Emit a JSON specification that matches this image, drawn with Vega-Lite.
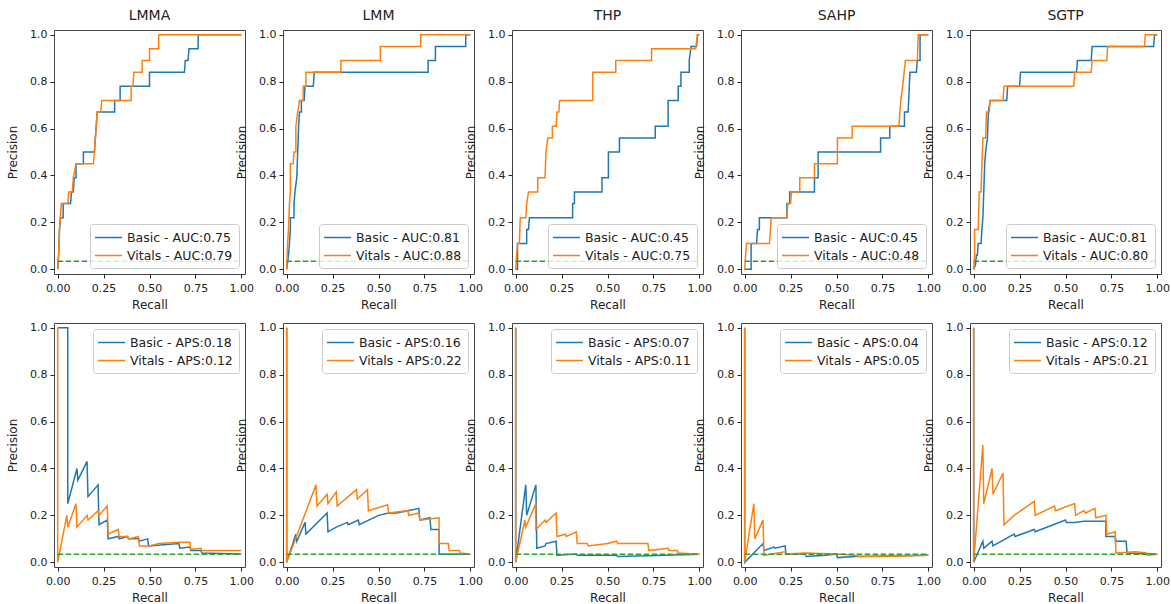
{
"$schema": "https://vega.github.io/schema/vega-lite/v6.json",
"padding": {"top": 8, "left": 6, "right": 3, "bottom": 5},
"background": "white",
"config": {
  "view": {"stroke": "#444", "strokeWidth": 1},
  "title": {"font": "DejaVu Sans", "fontSize": 14, "fontWeight": "normal", "color": "#222", "offset": 6},
  "axis": {"grid": false, "domain": false, "labelFont": "DejaVu Sans", "labelFontSize": 11, "labelColor": "#222", "titleFont": "DejaVu Sans", "titleFontSize": 12, "titleFontWeight": "normal", "titleColor": "#222", "tickColor": "#222", "tickSize": 4},
  "axisY": {"titlePadding": 10, "labelPadding": 3},
  "axisX": {"titlePadding": 6, "labelPadding": 4},
  "legend": {"fillColor": "rgba(255,255,255,0.8)", "strokeColor": "#cccccc", "cornerRadius": 3, "padding": 6, "symbolSize": 169, "symbolOffset": 5, "labelOffset": 11, "symbolStrokeWidth": 1.5, "labelFont": "DejaVu Sans", "labelFontSize": 12.5, "labelColor": "#222", "rowPadding": 4, "offset": 6}
},
"datasets": {
  "base": [{"x": 0, "y": 0.034}, {"x": 1, "y": 0.034}],
  "rocLMMA": [
    {"s":"Basic","x":0,"y":0},{"s":"Basic","x":0.005,"y":0.06},{"s":"Basic","x":0.01,"y":0.17},{"s":"Basic","x":0.015,"y":0.22},{"s":"Basic","x":0.03,"y":0.22},{"s":"Basic","x":0.03,"y":0.28},{"s":"Basic","x":0.07,"y":0.28},{"s":"Basic","x":0.075,"y":0.33},{"s":"Basic","x":0.085,"y":0.33},{"s":"Basic","x":0.09,"y":0.39},{"s":"Basic","x":0.1,"y":0.39},{"s":"Basic","x":0.1,"y":0.45},{"s":"Basic","x":0.14,"y":0.45},{"s":"Basic","x":0.14,"y":0.5},{"s":"Basic","x":0.2,"y":0.5},{"s":"Basic","x":0.205,"y":0.56},{"s":"Basic","x":0.21,"y":0.61},{"s":"Basic","x":0.215,"y":0.67},{"s":"Basic","x":0.31,"y":0.67},{"s":"Basic","x":0.31,"y":0.72},{"s":"Basic","x":0.34,"y":0.72},{"s":"Basic","x":0.34,"y":0.78},{"s":"Basic","x":0.5,"y":0.78},{"s":"Basic","x":0.5,"y":0.84},{"s":"Basic","x":0.69,"y":0.84},{"s":"Basic","x":0.695,"y":0.89},{"s":"Basic","x":0.71,"y":0.89},{"s":"Basic","x":0.715,"y":0.94},{"s":"Basic","x":0.765,"y":0.94},{"s":"Basic","x":0.765,"y":1},{"s":"Basic","x":1,"y":1},
    {"s":"Vitals","x":0,"y":0},{"s":"Vitals","x":0.005,"y":0.06},{"s":"Vitals","x":0.01,"y":0.17},{"s":"Vitals","x":0.02,"y":0.28},{"s":"Vitals","x":0.055,"y":0.28},{"s":"Vitals","x":0.06,"y":0.33},{"s":"Vitals","x":0.08,"y":0.33},{"s":"Vitals","x":0.085,"y":0.39},{"s":"Vitals","x":0.1,"y":0.45},{"s":"Vitals","x":0.195,"y":0.45},{"s":"Vitals","x":0.2,"y":0.5},{"s":"Vitals","x":0.21,"y":0.61},{"s":"Vitals","x":0.215,"y":0.67},{"s":"Vitals","x":0.235,"y":0.67},{"s":"Vitals","x":0.24,"y":0.72},{"s":"Vitals","x":0.4,"y":0.72},{"s":"Vitals","x":0.4,"y":0.78},{"s":"Vitals","x":0.41,"y":0.78},{"s":"Vitals","x":0.415,"y":0.84},{"s":"Vitals","x":0.46,"y":0.84},{"s":"Vitals","x":0.46,"y":0.89},{"s":"Vitals","x":0.5,"y":0.89},{"s":"Vitals","x":0.5,"y":0.94},{"s":"Vitals","x":0.55,"y":0.94},{"s":"Vitals","x":0.55,"y":1},{"s":"Vitals","x":1,"y":1}
  ],
  "rocLMM": [
    {"s":"Basic","x":0,"y":0},{"s":"Basic","x":0.01,"y":0.06},{"s":"Basic","x":0.015,"y":0.11},{"s":"Basic","x":0.02,"y":0.17},{"s":"Basic","x":0.02,"y":0.22},{"s":"Basic","x":0.04,"y":0.22},{"s":"Basic","x":0.04,"y":0.28},{"s":"Basic","x":0.045,"y":0.33},{"s":"Basic","x":0.055,"y":0.39},{"s":"Basic","x":0.06,"y":0.5},{"s":"Basic","x":0.065,"y":0.61},{"s":"Basic","x":0.07,"y":0.67},{"s":"Basic","x":0.08,"y":0.67},{"s":"Basic","x":0.08,"y":0.72},{"s":"Basic","x":0.095,"y":0.72},{"s":"Basic","x":0.1,"y":0.78},{"s":"Basic","x":0.145,"y":0.78},{"s":"Basic","x":0.15,"y":0.84},{"s":"Basic","x":0.77,"y":0.84},{"s":"Basic","x":0.77,"y":0.89},{"s":"Basic","x":0.81,"y":0.89},{"s":"Basic","x":0.81,"y":0.95},{"s":"Basic","x":0.975,"y":0.95},{"s":"Basic","x":0.975,"y":1},{"s":"Basic","x":1,"y":1},
    {"s":"Vitals","x":0,"y":0},{"s":"Vitals","x":0.005,"y":0.11},{"s":"Vitals","x":0.01,"y":0.17},{"s":"Vitals","x":0.015,"y":0.28},{"s":"Vitals","x":0.02,"y":0.33},{"s":"Vitals","x":0.02,"y":0.45},{"s":"Vitals","x":0.035,"y":0.45},{"s":"Vitals","x":0.04,"y":0.5},{"s":"Vitals","x":0.05,"y":0.5},{"s":"Vitals","x":0.05,"y":0.61},{"s":"Vitals","x":0.06,"y":0.67},{"s":"Vitals","x":0.07,"y":0.72},{"s":"Vitals","x":0.09,"y":0.72},{"s":"Vitals","x":0.09,"y":0.78},{"s":"Vitals","x":0.105,"y":0.78},{"s":"Vitals","x":0.105,"y":0.84},{"s":"Vitals","x":0.295,"y":0.84},{"s":"Vitals","x":0.295,"y":0.89},{"s":"Vitals","x":0.51,"y":0.89},{"s":"Vitals","x":0.51,"y":0.95},{"s":"Vitals","x":0.73,"y":0.95},{"s":"Vitals","x":0.73,"y":1},{"s":"Vitals","x":1,"y":1}
  ],
  "rocTHP": [
    {"s":"Basic","x":0,"y":0},{"s":"Basic","x":0.01,"y":0},{"s":"Basic","x":0.01,"y":0.11},{"s":"Basic","x":0.06,"y":0.11},{"s":"Basic","x":0.06,"y":0.17},{"s":"Basic","x":0.07,"y":0.17},{"s":"Basic","x":0.075,"y":0.22},{"s":"Basic","x":0.31,"y":0.22},{"s":"Basic","x":0.31,"y":0.28},{"s":"Basic","x":0.32,"y":0.28},{"s":"Basic","x":0.32,"y":0.33},{"s":"Basic","x":0.47,"y":0.33},{"s":"Basic","x":0.47,"y":0.39},{"s":"Basic","x":0.505,"y":0.39},{"s":"Basic","x":0.505,"y":0.5},{"s":"Basic","x":0.565,"y":0.5},{"s":"Basic","x":0.565,"y":0.56},{"s":"Basic","x":0.76,"y":0.56},{"s":"Basic","x":0.76,"y":0.61},{"s":"Basic","x":0.83,"y":0.61},{"s":"Basic","x":0.83,"y":0.72},{"s":"Basic","x":0.885,"y":0.72},{"s":"Basic","x":0.885,"y":0.78},{"s":"Basic","x":0.9,"y":0.78},{"s":"Basic","x":0.9,"y":0.84},{"s":"Basic","x":0.945,"y":0.84},{"s":"Basic","x":0.945,"y":0.89},{"s":"Basic","x":0.955,"y":0.95},{"s":"Basic","x":0.985,"y":0.95},{"s":"Basic","x":0.99,"y":1},{"s":"Basic","x":1,"y":1},
    {"s":"Vitals","x":0,"y":0},{"s":"Vitals","x":0.005,"y":0.06},{"s":"Vitals","x":0.01,"y":0.11},{"s":"Vitals","x":0.02,"y":0.11},{"s":"Vitals","x":0.025,"y":0.22},{"s":"Vitals","x":0.055,"y":0.22},{"s":"Vitals","x":0.06,"y":0.28},{"s":"Vitals","x":0.07,"y":0.33},{"s":"Vitals","x":0.12,"y":0.33},{"s":"Vitals","x":0.12,"y":0.39},{"s":"Vitals","x":0.16,"y":0.39},{"s":"Vitals","x":0.165,"y":0.5},{"s":"Vitals","x":0.175,"y":0.56},{"s":"Vitals","x":0.2,"y":0.56},{"s":"Vitals","x":0.2,"y":0.61},{"s":"Vitals","x":0.22,"y":0.61},{"s":"Vitals","x":0.225,"y":0.67},{"s":"Vitals","x":0.235,"y":0.67},{"s":"Vitals","x":0.24,"y":0.72},{"s":"Vitals","x":0.42,"y":0.72},{"s":"Vitals","x":0.42,"y":0.84},{"s":"Vitals","x":0.545,"y":0.84},{"s":"Vitals","x":0.545,"y":0.89},{"s":"Vitals","x":0.74,"y":0.89},{"s":"Vitals","x":0.74,"y":0.94},{"s":"Vitals","x":0.98,"y":0.94},{"s":"Vitals","x":0.99,"y":1},{"s":"Vitals","x":1,"y":1}
  ],
  "rocSAHP": [
    {"s":"Basic","x":0,"y":0},{"s":"Basic","x":0.035,"y":0},{"s":"Basic","x":0.035,"y":0.11},{"s":"Basic","x":0.065,"y":0.11},{"s":"Basic","x":0.07,"y":0.17},{"s":"Basic","x":0.08,"y":0.17},{"s":"Basic","x":0.08,"y":0.22},{"s":"Basic","x":0.23,"y":0.22},{"s":"Basic","x":0.23,"y":0.28},{"s":"Basic","x":0.245,"y":0.28},{"s":"Basic","x":0.245,"y":0.33},{"s":"Basic","x":0.38,"y":0.33},{"s":"Basic","x":0.38,"y":0.39},{"s":"Basic","x":0.4,"y":0.39},{"s":"Basic","x":0.4,"y":0.5},{"s":"Basic","x":0.74,"y":0.5},{"s":"Basic","x":0.74,"y":0.56},{"s":"Basic","x":0.79,"y":0.56},{"s":"Basic","x":0.79,"y":0.61},{"s":"Basic","x":0.87,"y":0.61},{"s":"Basic","x":0.87,"y":0.67},{"s":"Basic","x":0.89,"y":0.67},{"s":"Basic","x":0.9,"y":0.84},{"s":"Basic","x":0.935,"y":0.84},{"s":"Basic","x":0.94,"y":0.89},{"s":"Basic","x":0.955,"y":0.89},{"s":"Basic","x":0.955,"y":1},{"s":"Basic","x":1,"y":1},
    {"s":"Vitals","x":0,"y":0},{"s":"Vitals","x":0.005,"y":0.06},{"s":"Vitals","x":0.01,"y":0.11},{"s":"Vitals","x":0.135,"y":0.11},{"s":"Vitals","x":0.14,"y":0.17},{"s":"Vitals","x":0.145,"y":0.22},{"s":"Vitals","x":0.23,"y":0.22},{"s":"Vitals","x":0.235,"y":0.28},{"s":"Vitals","x":0.25,"y":0.28},{"s":"Vitals","x":0.255,"y":0.33},{"s":"Vitals","x":0.3,"y":0.33},{"s":"Vitals","x":0.3,"y":0.39},{"s":"Vitals","x":0.38,"y":0.39},{"s":"Vitals","x":0.38,"y":0.45},{"s":"Vitals","x":0.505,"y":0.45},{"s":"Vitals","x":0.505,"y":0.56},{"s":"Vitals","x":0.585,"y":0.56},{"s":"Vitals","x":0.585,"y":0.61},{"s":"Vitals","x":0.84,"y":0.61},{"s":"Vitals","x":0.845,"y":0.67},{"s":"Vitals","x":0.85,"y":0.72},{"s":"Vitals","x":0.86,"y":0.78},{"s":"Vitals","x":0.875,"y":0.89},{"s":"Vitals","x":0.94,"y":0.89},{"s":"Vitals","x":0.945,"y":1},{"s":"Vitals","x":1,"y":1}
  ],
  "rocSGTP": [
    {"s":"Basic","x":0,"y":0},{"s":"Basic","x":0.01,"y":0.02},{"s":"Basic","x":0.015,"y":0.06},{"s":"Basic","x":0.02,"y":0.06},{"s":"Basic","x":0.025,"y":0.11},{"s":"Basic","x":0.04,"y":0.11},{"s":"Basic","x":0.045,"y":0.17},{"s":"Basic","x":0.05,"y":0.22},{"s":"Basic","x":0.055,"y":0.33},{"s":"Basic","x":0.06,"y":0.45},{"s":"Basic","x":0.065,"y":0.5},{"s":"Basic","x":0.075,"y":0.56},{"s":"Basic","x":0.08,"y":0.67},{"s":"Basic","x":0.09,"y":0.72},{"s":"Basic","x":0.18,"y":0.72},{"s":"Basic","x":0.185,"y":0.78},{"s":"Basic","x":0.25,"y":0.78},{"s":"Basic","x":0.255,"y":0.84},{"s":"Basic","x":0.56,"y":0.84},{"s":"Basic","x":0.565,"y":0.89},{"s":"Basic","x":0.64,"y":0.89},{"s":"Basic","x":0.645,"y":0.95},{"s":"Basic","x":0.98,"y":0.95},{"s":"Basic","x":0.985,"y":1},{"s":"Basic","x":1,"y":1},
    {"s":"Vitals","x":0,"y":0},{"s":"Vitals","x":0.005,"y":0.06},{"s":"Vitals","x":0.005,"y":0.17},{"s":"Vitals","x":0.025,"y":0.17},{"s":"Vitals","x":0.03,"y":0.33},{"s":"Vitals","x":0.04,"y":0.33},{"s":"Vitals","x":0.045,"y":0.45},{"s":"Vitals","x":0.05,"y":0.56},{"s":"Vitals","x":0.065,"y":0.56},{"s":"Vitals","x":0.07,"y":0.67},{"s":"Vitals","x":0.085,"y":0.67},{"s":"Vitals","x":0.09,"y":0.72},{"s":"Vitals","x":0.16,"y":0.72},{"s":"Vitals","x":0.165,"y":0.78},{"s":"Vitals","x":0.545,"y":0.78},{"s":"Vitals","x":0.55,"y":0.84},{"s":"Vitals","x":0.64,"y":0.84},{"s":"Vitals","x":0.645,"y":0.89},{"s":"Vitals","x":0.725,"y":0.89},{"s":"Vitals","x":0.73,"y":0.95},{"s":"Vitals","x":0.93,"y":0.95},{"s":"Vitals","x":0.935,"y":1},{"s":"Vitals","x":1,"y":1}
  ],
  "prLMMA": [
    {"s":"Basic","x":0,"y":1},{"s":"Basic","x":0.055,"y":1},{"s":"Basic","x":0.055,"y":0.25},{"s":"Basic","x":0.105,"y":0.4},{"s":"Basic","x":0.11,"y":0.35},{"s":"Basic","x":0.16,"y":0.43},{"s":"Basic","x":0.165,"y":0.28},{"s":"Basic","x":0.22,"y":0.33},{"s":"Basic","x":0.225,"y":0.16},{"s":"Basic","x":0.27,"y":0.18},{"s":"Basic","x":0.275,"y":0.1},{"s":"Basic","x":0.33,"y":0.11},{"s":"Basic","x":0.335,"y":0.1},{"s":"Basic","x":0.38,"y":0.11},{"s":"Basic","x":0.385,"y":0.1},{"s":"Basic","x":0.44,"y":0.1},{"s":"Basic","x":0.445,"y":0.09},{"s":"Basic","x":0.49,"y":0.1},{"s":"Basic","x":0.495,"y":0.07},{"s":"Basic","x":0.66,"y":0.08},{"s":"Basic","x":0.665,"y":0.06},{"s":"Basic","x":0.72,"y":0.065},{"s":"Basic","x":0.725,"y":0.05},{"s":"Basic","x":0.78,"y":0.05},{"s":"Basic","x":0.785,"y":0.04},{"s":"Basic","x":1,"y":0.035},
    {"s":"Vitals","x":0,"y":1},{"s":"Vitals","x":0,"y":0},{"s":"Vitals","x":0.05,"y":0.2},{"s":"Vitals","x":0.055,"y":0.15},{"s":"Vitals","x":0.1,"y":0.25},{"s":"Vitals","x":0.105,"y":0.15},{"s":"Vitals","x":0.16,"y":0.2},{"s":"Vitals","x":0.165,"y":0.18},{"s":"Vitals","x":0.22,"y":0.22},{"s":"Vitals","x":0.225,"y":0.2},{"s":"Vitals","x":0.27,"y":0.24},{"s":"Vitals","x":0.275,"y":0.12},{"s":"Vitals","x":0.33,"y":0.14},{"s":"Vitals","x":0.335,"y":0.11},{"s":"Vitals","x":0.38,"y":0.11},{"s":"Vitals","x":0.39,"y":0.1},{"s":"Vitals","x":0.44,"y":0.11},{"s":"Vitals","x":0.445,"y":0.07},{"s":"Vitals","x":0.5,"y":0.07},{"s":"Vitals","x":0.55,"y":0.08},{"s":"Vitals","x":0.66,"y":0.085},{"s":"Vitals","x":0.72,"y":0.085},{"s":"Vitals","x":0.725,"y":0.055},{"s":"Vitals","x":0.78,"y":0.06},{"s":"Vitals","x":0.785,"y":0.05},{"s":"Vitals","x":1,"y":0.05}
  ],
  "prLMM": [
    {"s":"Basic","x":0,"y":1},{"s":"Basic","x":0,"y":0},{"s":"Basic","x":0.05,"y":0.12},{"s":"Basic","x":0.055,"y":0.09},{"s":"Basic","x":0.1,"y":0.17},{"s":"Basic","x":0.105,"y":0.12},{"s":"Basic","x":0.22,"y":0.21},{"s":"Basic","x":0.225,"y":0.13},{"s":"Basic","x":0.27,"y":0.15},{"s":"Basic","x":0.33,"y":0.17},{"s":"Basic","x":0.335,"y":0.16},{"s":"Basic","x":0.39,"y":0.18},{"s":"Basic","x":0.395,"y":0.16},{"s":"Basic","x":0.5,"y":0.2},{"s":"Basic","x":0.555,"y":0.21},{"s":"Basic","x":0.6,"y":0.21},{"s":"Basic","x":0.66,"y":0.22},{"s":"Basic","x":0.72,"y":0.23},{"s":"Basic","x":0.725,"y":0.18},{"s":"Basic","x":0.78,"y":0.19},{"s":"Basic","x":0.785,"y":0.14},{"s":"Basic","x":0.83,"y":0.14},{"s":"Basic","x":0.83,"y":0.034},{"s":"Basic","x":1,"y":0.034},
    {"s":"Vitals","x":0,"y":1},{"s":"Vitals","x":0,"y":0},{"s":"Vitals","x":0.16,"y":0.33},{"s":"Vitals","x":0.165,"y":0.24},{"s":"Vitals","x":0.22,"y":0.29},{"s":"Vitals","x":0.225,"y":0.25},{"s":"Vitals","x":0.27,"y":0.3},{"s":"Vitals","x":0.275,"y":0.24},{"s":"Vitals","x":0.38,"y":0.31},{"s":"Vitals","x":0.385,"y":0.27},{"s":"Vitals","x":0.44,"y":0.31},{"s":"Vitals","x":0.445,"y":0.22},{"s":"Vitals","x":0.55,"y":0.245},{"s":"Vitals","x":0.555,"y":0.21},{"s":"Vitals","x":0.66,"y":0.22},{"s":"Vitals","x":0.665,"y":0.2},{"s":"Vitals","x":0.72,"y":0.21},{"s":"Vitals","x":0.725,"y":0.18},{"s":"Vitals","x":0.83,"y":0.19},{"s":"Vitals","x":0.83,"y":0.08},{"s":"Vitals","x":0.88,"y":0.08},{"s":"Vitals","x":0.885,"y":0.05},{"s":"Vitals","x":0.94,"y":0.05},{"s":"Vitals","x":0.945,"y":0.04},{"s":"Vitals","x":1,"y":0.035}
  ],
  "prTHP": [
    {"s":"Basic","x":0,"y":1},{"s":"Basic","x":0,"y":0},{"s":"Basic","x":0.055,"y":0.33},{"s":"Basic","x":0.06,"y":0.2},{"s":"Basic","x":0.11,"y":0.33},{"s":"Basic","x":0.115,"y":0.06},{"s":"Basic","x":0.16,"y":0.07},{"s":"Basic","x":0.165,"y":0.08},{"s":"Basic","x":0.22,"y":0.09},{"s":"Basic","x":0.225,"y":0.03},{"s":"Basic","x":0.33,"y":0.035},{"s":"Basic","x":0.335,"y":0.03},{"s":"Basic","x":0.55,"y":0.03},{"s":"Basic","x":0.555,"y":0.025},{"s":"Basic","x":0.72,"y":0.028},{"s":"Basic","x":1,"y":0.034},
    {"s":"Vitals","x":0,"y":1},{"s":"Vitals","x":0,"y":0},{"s":"Vitals","x":0.05,"y":0.18},{"s":"Vitals","x":0.055,"y":0.15},{"s":"Vitals","x":0.11,"y":0.25},{"s":"Vitals","x":0.11,"y":0.14},{"s":"Vitals","x":0.16,"y":0.18},{"s":"Vitals","x":0.165,"y":0.17},{"s":"Vitals","x":0.22,"y":0.21},{"s":"Vitals","x":0.225,"y":0.11},{"s":"Vitals","x":0.27,"y":0.12},{"s":"Vitals","x":0.275,"y":0.11},{"s":"Vitals","x":0.33,"y":0.13},{"s":"Vitals","x":0.335,"y":0.08},{"s":"Vitals","x":0.39,"y":0.08},{"s":"Vitals","x":0.395,"y":0.07},{"s":"Vitals","x":0.5,"y":0.08},{"s":"Vitals","x":0.55,"y":0.09},{"s":"Vitals","x":0.555,"y":0.08},{"s":"Vitals","x":0.72,"y":0.08},{"s":"Vitals","x":0.725,"y":0.05},{"s":"Vitals","x":0.83,"y":0.06},{"s":"Vitals","x":0.835,"y":0.05},{"s":"Vitals","x":0.88,"y":0.05},{"s":"Vitals","x":0.885,"y":0.04},{"s":"Vitals","x":1,"y":0.034}
  ],
  "prSAHP": [
    {"s":"Basic","x":0,"y":1},{"s":"Basic","x":0,"y":0},{"s":"Basic","x":0.1,"y":0.08},{"s":"Basic","x":0.105,"y":0.05},{"s":"Basic","x":0.16,"y":0.065},{"s":"Basic","x":0.165,"y":0.06},{"s":"Basic","x":0.22,"y":0.07},{"s":"Basic","x":0.225,"y":0.035},{"s":"Basic","x":0.33,"y":0.035},{"s":"Basic","x":0.335,"y":0.025},{"s":"Basic","x":0.44,"y":0.03},{"s":"Basic","x":0.5,"y":0.035},{"s":"Basic","x":0.505,"y":0.02},{"s":"Basic","x":0.6,"y":0.025},{"s":"Basic","x":1,"y":0.03},
    {"s":"Vitals","x":0,"y":1},{"s":"Vitals","x":0,"y":0},{"s":"Vitals","x":0.05,"y":0.25},{"s":"Vitals","x":0.055,"y":0.1},{"s":"Vitals","x":0.1,"y":0.18},{"s":"Vitals","x":0.105,"y":0.03},{"s":"Vitals","x":0.22,"y":0.045},{"s":"Vitals","x":0.225,"y":0.035},{"s":"Vitals","x":0.33,"y":0.04},{"s":"Vitals","x":0.5,"y":0.035},{"s":"Vitals","x":0.6,"y":0.03},{"s":"Vitals","x":0.62,"y":0.025},{"s":"Vitals","x":0.75,"y":0.025},{"s":"Vitals","x":1,"y":0.03}
  ],
  "prSGTP": [
    {"s":"Basic","x":0,"y":1},{"s":"Basic","x":0,"y":0},{"s":"Basic","x":0.05,"y":0.09},{"s":"Basic","x":0.055,"y":0.06},{"s":"Basic","x":0.1,"y":0.09},{"s":"Basic","x":0.105,"y":0.07},{"s":"Basic","x":0.22,"y":0.12},{"s":"Basic","x":0.225,"y":0.11},{"s":"Basic","x":0.33,"y":0.14},{"s":"Basic","x":0.335,"y":0.13},{"s":"Basic","x":0.5,"y":0.18},{"s":"Basic","x":0.505,"y":0.17},{"s":"Basic","x":0.55,"y":0.17},{"s":"Basic","x":0.6,"y":0.175},{"s":"Basic","x":0.72,"y":0.175},{"s":"Basic","x":0.72,"y":0.11},{"s":"Basic","x":0.77,"y":0.11},{"s":"Basic","x":0.775,"y":0.09},{"s":"Basic","x":0.83,"y":0.09},{"s":"Basic","x":0.835,"y":0.04},{"s":"Basic","x":1,"y":0.034},
    {"s":"Vitals","x":0,"y":1},{"s":"Vitals","x":0,"y":0},{"s":"Vitals","x":0.05,"y":0.5},{"s":"Vitals","x":0.055,"y":0.25},{"s":"Vitals","x":0.1,"y":0.4},{"s":"Vitals","x":0.105,"y":0.29},{"s":"Vitals","x":0.16,"y":0.38},{"s":"Vitals","x":0.165,"y":0.16},{"s":"Vitals","x":0.22,"y":0.2},{"s":"Vitals","x":0.33,"y":0.26},{"s":"Vitals","x":0.335,"y":0.2},{"s":"Vitals","x":0.44,"y":0.24},{"s":"Vitals","x":0.445,"y":0.22},{"s":"Vitals","x":0.55,"y":0.25},{"s":"Vitals","x":0.555,"y":0.2},{"s":"Vitals","x":0.6,"y":0.22},{"s":"Vitals","x":0.61,"y":0.21},{"s":"Vitals","x":0.66,"y":0.23},{"s":"Vitals","x":0.665,"y":0.19},{"s":"Vitals","x":0.72,"y":0.2},{"s":"Vitals","x":0.725,"y":0.12},{"s":"Vitals","x":0.77,"y":0.13},{"s":"Vitals","x":0.775,"y":0.04},{"s":"Vitals","x":0.88,"y":0.045},{"s":"Vitals","x":0.94,"y":0.04},{"s":"Vitals","x":0.945,"y":0.03},{"s":"Vitals","x":1,"y":0.034}
  ]
},
"columns": 5,
"spacing": {"row": 49, "column": 38},
"bounds": "flush",
"concat": [
  {"title": "LMMA", "width": 191, "height": 244, "layer": [
    {"data": {"name": "rocLMMA"}, "mark": {"type": "line", "strokeWidth": 1.5}, "encoding": {
      "x": {"field": "x", "type": "quantitative", "scale": {"domain": [-0.02, 1.02], "nice": false}, "axis": {"values": [0, 0.25, 0.5, 0.75, 1], "format": ".2f", "title": "Recall"}},
      "y": {"field": "y", "type": "quantitative", "scale": {"domain": [-0.02, 1.02], "nice": false}, "axis": {"values": [0, 0.2, 0.4, 0.6, 0.8, 1], "format": ".1f", "title": "Precision"}},
      "color": {"field": "s", "type": "nominal", "scale": {"domain": ["Basic", "Vitals"], "range": ["#1f77b4", "#ff7f0e"]}, "legend": {"title": null, "orient": "bottom-right", "symbolType": "M-2.08,0H2.08", "labelExpr": "datum.label == 'Basic' ? 'Basic - AUC:0.75' : 'Vitals - AUC:0.79'"}},
      "order": {"value": null}}},
    {"data": {"name": "base"}, "mark": {"type": "line", "color": "#2ca02c", "strokeDash": [5.5, 2.5], "strokeWidth": 1.5}, "encoding": {"x": {"field": "x", "type": "quantitative"}, "y": {"field": "y", "type": "quantitative"}}}
  ]},
  {"title": "LMM", "width": 191, "height": 244, "layer": [
    {"data": {"name": "rocLMM"}, "mark": {"type": "line", "strokeWidth": 1.5}, "encoding": {
      "x": {"field": "x", "type": "quantitative", "scale": {"domain": [-0.02, 1.02], "nice": false}, "axis": {"values": [0, 0.25, 0.5, 0.75, 1], "format": ".2f", "title": "Recall"}},
      "y": {"field": "y", "type": "quantitative", "scale": {"domain": [-0.02, 1.02], "nice": false}, "axis": {"values": [0, 0.2, 0.4, 0.6, 0.8, 1], "format": ".1f", "title": "Precision"}},
      "color": {"field": "s", "type": "nominal", "scale": {"domain": ["Basic", "Vitals"], "range": ["#1f77b4", "#ff7f0e"]}, "legend": {"title": null, "orient": "bottom-right", "symbolType": "M-2.08,0H2.08", "labelExpr": "datum.label == 'Basic' ? 'Basic - AUC:0.81' : 'Vitals - AUC:0.88'"}},
      "order": {"value": null}}},
    {"data": {"name": "base"}, "mark": {"type": "line", "color": "#2ca02c", "strokeDash": [5.5, 2.5], "strokeWidth": 1.5}, "encoding": {"x": {"field": "x", "type": "quantitative"}, "y": {"field": "y", "type": "quantitative"}}}
  ]},
  {"title": "THP", "width": 191, "height": 244, "layer": [
    {"data": {"name": "rocTHP"}, "mark": {"type": "line", "strokeWidth": 1.5}, "encoding": {
      "x": {"field": "x", "type": "quantitative", "scale": {"domain": [-0.02, 1.02], "nice": false}, "axis": {"values": [0, 0.25, 0.5, 0.75, 1], "format": ".2f", "title": "Recall"}},
      "y": {"field": "y", "type": "quantitative", "scale": {"domain": [-0.02, 1.02], "nice": false}, "axis": {"values": [0, 0.2, 0.4, 0.6, 0.8, 1], "format": ".1f", "title": "Precision"}},
      "color": {"field": "s", "type": "nominal", "scale": {"domain": ["Basic", "Vitals"], "range": ["#1f77b4", "#ff7f0e"]}, "legend": {"title": null, "orient": "bottom-right", "symbolType": "M-2.08,0H2.08", "labelExpr": "datum.label == 'Basic' ? 'Basic - AUC:0.45' : 'Vitals - AUC:0.75'"}},
      "order": {"value": null}}},
    {"data": {"name": "base"}, "mark": {"type": "line", "color": "#2ca02c", "strokeDash": [5.5, 2.5], "strokeWidth": 1.5}, "encoding": {"x": {"field": "x", "type": "quantitative"}, "y": {"field": "y", "type": "quantitative"}}}
  ]},
  {"title": "SAHP", "width": 191, "height": 244, "layer": [
    {"data": {"name": "rocSAHP"}, "mark": {"type": "line", "strokeWidth": 1.5}, "encoding": {
      "x": {"field": "x", "type": "quantitative", "scale": {"domain": [-0.02, 1.02], "nice": false}, "axis": {"values": [0, 0.25, 0.5, 0.75, 1], "format": ".2f", "title": "Recall"}},
      "y": {"field": "y", "type": "quantitative", "scale": {"domain": [-0.02, 1.02], "nice": false}, "axis": {"values": [0, 0.2, 0.4, 0.6, 0.8, 1], "format": ".1f", "title": "Precision"}},
      "color": {"field": "s", "type": "nominal", "scale": {"domain": ["Basic", "Vitals"], "range": ["#1f77b4", "#ff7f0e"]}, "legend": {"title": null, "orient": "bottom-right", "symbolType": "M-2.08,0H2.08", "labelExpr": "datum.label == 'Basic' ? 'Basic - AUC:0.45' : 'Vitals - AUC:0.48'"}},
      "order": {"value": null}}},
    {"data": {"name": "base"}, "mark": {"type": "line", "color": "#2ca02c", "strokeDash": [5.5, 2.5], "strokeWidth": 1.5}, "encoding": {"x": {"field": "x", "type": "quantitative"}, "y": {"field": "y", "type": "quantitative"}}}
  ]},
  {"title": "SGTP", "width": 191, "height": 244, "layer": [
    {"data": {"name": "rocSGTP"}, "mark": {"type": "line", "strokeWidth": 1.5}, "encoding": {
      "x": {"field": "x", "type": "quantitative", "scale": {"domain": [-0.02, 1.02], "nice": false}, "axis": {"values": [0, 0.25, 0.5, 0.75, 1], "format": ".2f", "title": "Recall"}},
      "y": {"field": "y", "type": "quantitative", "scale": {"domain": [-0.02, 1.02], "nice": false}, "axis": {"values": [0, 0.2, 0.4, 0.6, 0.8, 1], "format": ".1f", "title": "Precision"}},
      "color": {"field": "s", "type": "nominal", "scale": {"domain": ["Basic", "Vitals"], "range": ["#1f77b4", "#ff7f0e"]}, "legend": {"title": null, "orient": "bottom-right", "symbolType": "M-2.08,0H2.08", "labelExpr": "datum.label == 'Basic' ? 'Basic - AUC:0.81' : 'Vitals - AUC:0.80'"}},
      "order": {"value": null}}},
    {"data": {"name": "base"}, "mark": {"type": "line", "color": "#2ca02c", "strokeDash": [5.5, 2.5], "strokeWidth": 1.5}, "encoding": {"x": {"field": "x", "type": "quantitative"}, "y": {"field": "y", "type": "quantitative"}}}
  ]},
  {"width": 191, "height": 244, "layer": [
    {"data": {"name": "prLMMA"}, "mark": {"type": "line", "strokeWidth": 1.5}, "encoding": {
      "x": {"field": "x", "type": "quantitative", "scale": {"domain": [-0.02, 1.02], "nice": false}, "axis": {"values": [0, 0.25, 0.5, 0.75, 1], "format": ".2f", "title": "Recall"}},
      "y": {"field": "y", "type": "quantitative", "scale": {"domain": [-0.02, 1.02], "nice": false}, "axis": {"values": [0, 0.2, 0.4, 0.6, 0.8, 1], "format": ".1f", "title": "Precision"}},
      "color": {"field": "s", "type": "nominal", "scale": {"domain": ["Basic", "Vitals"], "range": ["#1f77b4", "#ff7f0e"]}, "legend": {"title": null, "orient": "top-right", "symbolType": "M-2.08,0H2.08", "labelExpr": "datum.label == 'Basic' ? 'Basic - APS:0.18' : 'Vitals - APS:0.12'"}},
      "order": {"value": null}}},
    {"data": {"name": "base"}, "mark": {"type": "line", "color": "#2ca02c", "strokeDash": [5.5, 2.5], "strokeWidth": 1.5}, "encoding": {"x": {"field": "x", "type": "quantitative"}, "y": {"field": "y", "type": "quantitative"}}}
  ]},
  {"width": 191, "height": 244, "layer": [
    {"data": {"name": "prLMM"}, "mark": {"type": "line", "strokeWidth": 1.5}, "encoding": {
      "x": {"field": "x", "type": "quantitative", "scale": {"domain": [-0.02, 1.02], "nice": false}, "axis": {"values": [0, 0.25, 0.5, 0.75, 1], "format": ".2f", "title": "Recall"}},
      "y": {"field": "y", "type": "quantitative", "scale": {"domain": [-0.02, 1.02], "nice": false}, "axis": {"values": [0, 0.2, 0.4, 0.6, 0.8, 1], "format": ".1f", "title": "Precision"}},
      "color": {"field": "s", "type": "nominal", "scale": {"domain": ["Basic", "Vitals"], "range": ["#1f77b4", "#ff7f0e"]}, "legend": {"title": null, "orient": "top-right", "symbolType": "M-2.08,0H2.08", "labelExpr": "datum.label == 'Basic' ? 'Basic - APS:0.16' : 'Vitals - APS:0.22'"}},
      "order": {"value": null}}},
    {"data": {"name": "base"}, "mark": {"type": "line", "color": "#2ca02c", "strokeDash": [5.5, 2.5], "strokeWidth": 1.5}, "encoding": {"x": {"field": "x", "type": "quantitative"}, "y": {"field": "y", "type": "quantitative"}}}
  ]},
  {"width": 191, "height": 244, "layer": [
    {"data": {"name": "prTHP"}, "mark": {"type": "line", "strokeWidth": 1.5}, "encoding": {
      "x": {"field": "x", "type": "quantitative", "scale": {"domain": [-0.02, 1.02], "nice": false}, "axis": {"values": [0, 0.25, 0.5, 0.75, 1], "format": ".2f", "title": "Recall"}},
      "y": {"field": "y", "type": "quantitative", "scale": {"domain": [-0.02, 1.02], "nice": false}, "axis": {"values": [0, 0.2, 0.4, 0.6, 0.8, 1], "format": ".1f", "title": "Precision"}},
      "color": {"field": "s", "type": "nominal", "scale": {"domain": ["Basic", "Vitals"], "range": ["#1f77b4", "#ff7f0e"]}, "legend": {"title": null, "orient": "top-right", "symbolType": "M-2.08,0H2.08", "labelExpr": "datum.label == 'Basic' ? 'Basic - APS:0.07' : 'Vitals - APS:0.11'"}},
      "order": {"value": null}}},
    {"data": {"name": "base"}, "mark": {"type": "line", "color": "#2ca02c", "strokeDash": [5.5, 2.5], "strokeWidth": 1.5}, "encoding": {"x": {"field": "x", "type": "quantitative"}, "y": {"field": "y", "type": "quantitative"}}}
  ]},
  {"width": 191, "height": 244, "layer": [
    {"data": {"name": "prSAHP"}, "mark": {"type": "line", "strokeWidth": 1.5}, "encoding": {
      "x": {"field": "x", "type": "quantitative", "scale": {"domain": [-0.02, 1.02], "nice": false}, "axis": {"values": [0, 0.25, 0.5, 0.75, 1], "format": ".2f", "title": "Recall"}},
      "y": {"field": "y", "type": "quantitative", "scale": {"domain": [-0.02, 1.02], "nice": false}, "axis": {"values": [0, 0.2, 0.4, 0.6, 0.8, 1], "format": ".1f", "title": "Precision"}},
      "color": {"field": "s", "type": "nominal", "scale": {"domain": ["Basic", "Vitals"], "range": ["#1f77b4", "#ff7f0e"]}, "legend": {"title": null, "orient": "top-right", "symbolType": "M-2.08,0H2.08", "labelExpr": "datum.label == 'Basic' ? 'Basic - APS:0.04' : 'Vitals - APS:0.05'"}},
      "order": {"value": null}}},
    {"data": {"name": "base"}, "mark": {"type": "line", "color": "#2ca02c", "strokeDash": [5.5, 2.5], "strokeWidth": 1.5}, "encoding": {"x": {"field": "x", "type": "quantitative"}, "y": {"field": "y", "type": "quantitative"}}}
  ]},
  {"width": 191, "height": 244, "layer": [
    {"data": {"name": "prSGTP"}, "mark": {"type": "line", "strokeWidth": 1.5}, "encoding": {
      "x": {"field": "x", "type": "quantitative", "scale": {"domain": [-0.02, 1.02], "nice": false}, "axis": {"values": [0, 0.25, 0.5, 0.75, 1], "format": ".2f", "title": "Recall"}},
      "y": {"field": "y", "type": "quantitative", "scale": {"domain": [-0.02, 1.02], "nice": false}, "axis": {"values": [0, 0.2, 0.4, 0.6, 0.8, 1], "format": ".1f", "title": "Precision"}},
      "color": {"field": "s", "type": "nominal", "scale": {"domain": ["Basic", "Vitals"], "range": ["#1f77b4", "#ff7f0e"]}, "legend": {"title": null, "orient": "top-right", "symbolType": "M-2.08,0H2.08", "labelExpr": "datum.label == 'Basic' ? 'Basic - APS:0.12' : 'Vitals - APS:0.21'"}},
      "order": {"value": null}}},
    {"data": {"name": "base"}, "mark": {"type": "line", "color": "#2ca02c", "strokeDash": [5.5, 2.5], "strokeWidth": 1.5}, "encoding": {"x": {"field": "x", "type": "quantitative"}, "y": {"field": "y", "type": "quantitative"}}}
  ]}
],
"resolve": {"scale": {"color": "independent", "x": "independent", "y": "independent"}, "legend": {"color": "independent"}}
}
